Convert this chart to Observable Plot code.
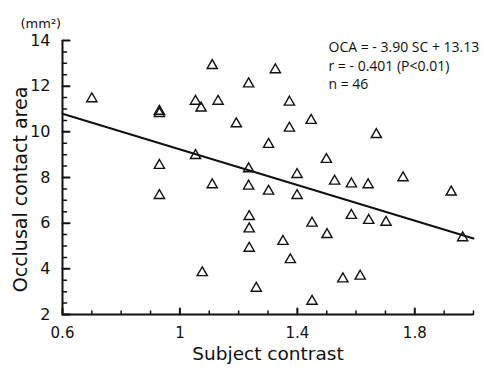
<!DOCTYPE html>
<html><head><meta charset="utf-8">
<script src="https://cdn.jsdelivr.net/npm/d3@7"></script>
<script src="https://cdn.jsdelivr.net/npm/@observablehq/plot@0.6"></script>
<style>
body{margin:0;background:#fff;}
#wrap{width:484px;height:368px;}
svg{font-family:"DejaVu Sans",sans-serif;}
</style></head><body><div id="wrap"></div>
<script>
// Subject contrast (SC) and occlusal contact area (OCA, mm²), n = 46
const sc = [0.70, 0.93, 0.93, 0.93, 0.93, 1.053, 1.072, 1.053, 1.076, 1.11,
            1.13, 1.11, 1.192, 1.234, 1.234, 1.234, 1.236, 1.236, 1.236, 1.26,
            1.302, 1.302, 1.325, 1.351, 1.373, 1.373, 1.376, 1.399, 1.399, 1.447,
            1.45, 1.45, 1.499, 1.501, 1.527, 1.555, 1.584, 1.584, 1.614, 1.641,
            1.643, 1.669, 1.702, 1.76, 1.924, 1.963];
const oca = [11.45, 10.9, 10.8, 8.53, 7.21, 11.34, 11.04, 8.96, 3.83, 12.9,
             11.34, 7.68, 10.35, 12.1, 8.38, 7.62, 6.29, 5.75, 4.90, 3.15,
             9.45, 7.40, 12.72, 5.20, 11.3, 10.16, 4.40, 8.13, 7.21, 10.5,
             6.0, 2.58, 8.79, 5.50, 7.84, 3.56, 7.72, 6.34, 3.68, 7.68,
             6.12, 9.88, 6.04, 7.99, 7.36, 5.36];
// regression line endpoints (as drawn)
const lineSC = [0.6, 2.0];
const lineOCA = [10.79, 5.33];
// ticks
const xLabelTicks = [0.6, 1, 1.4, 1.8];
const xMinorTicks = [0.7, 0.8, 0.9, 1.1, 1.2, 1.3, 1.5, 1.6, 1.7, 1.9, 2.0];
const yLabelTicks = [2, 4, 6, 8, 10, 12, 14];
const yMinorTicks = [2.5, 3, 3.5, 4.5, 5, 5.5, 6.5, 7, 7.5, 8.5, 9, 9.5, 10.5, 11, 11.5, 12.5, 13, 13.5];
const annotation = ["OCA = - 3.90 SC + 13.13", "r = - 0.401 (P<0.01)", "n = 46"];
const unitLabel = "(mm²)";
const xTitle = "Subject contrast";
const yTitle = "Occlusal contact area";

const pts = sc.map((x, i) => ({x, y: oca[i]}));
const lineData = lineSC.map((x, i) => ({x, y: lineOCA[i]}));

const tickShape = {draw(ctx, l) { ctx.moveTo(0, 0); ctx.lineTo(0, -l); }};
const ink = "#111";

const chart = Plot.plot({
  width: 484, height: 368,
  marginLeft: 62, marginRight: 11, marginTop: 40, marginBottom: 54,
  x: {domain: [0.6, 2.0]},
  y: {domain: [2, 14]},
  style: {fontFamily: "DejaVu Sans, sans-serif", color: ink, background: "white"},
  marks: [
    // axis lines
    Plot.ruleX([0.6], {stroke: ink, strokeWidth: 2}),
    Plot.ruleY([2], {stroke: ink, strokeWidth: 2}),
    // inward ticks
    Plot.vector(yLabelTicks, {x: 0.6, y: d => d, length: 7, rotate: 90, anchor: "start", shape: tickShape, stroke: ink, strokeWidth: 2}),
    Plot.vector(yMinorTicks, {x: 0.6, y: d => d, length: 4, rotate: 90, anchor: "start", shape: tickShape, stroke: ink, strokeWidth: 1.5}),
    Plot.vector(xLabelTicks, {x: d => d, y: 2, length: 6, rotate: 0, anchor: "start", shape: tickShape, stroke: ink, strokeWidth: 2}),
    Plot.vector(xMinorTicks, {x: d => d, y: 2, length: 3.5, rotate: 0, anchor: "start", shape: tickShape, stroke: ink, strokeWidth: 1.5}),
    // tick labels
    Plot.axisY(yLabelTicks, {tickSize: 0, tickPadding: 12, fontSize: 16, label: null, tickFormat: d => String(d), color: ink}),
    Plot.axisX(xLabelTicks, {tickSize: 0, tickPadding: 13, fontSize: 15, label: null, tickFormat: d => String(d), color: ink}),
    // titles
    Plot.text([xTitle], {frameAnchor: "bottom", dy: 45, fontSize: 18.5, fill: ink}),
    Plot.text([yTitle], {frameAnchor: "left", textAnchor: "middle", dx: -42, dy: 12, rotate: -90, fontSize: 19, fill: ink}),
    Plot.text([unitLabel], {frameAnchor: "top-left", textAnchor: "start", dx: -42, dy: -22, fontSize: 13, fill: ink}),
    // regression line
    Plot.line(lineData, {x: "x", y: "y", stroke: ink, strokeWidth: 2}),
    // points
    Plot.dot(pts, {x: "x", y: "y", symbol: "triangle", r: 3.8, fill: "none", stroke: ink, strokeWidth: 1.4}),
    // annotation
    Plot.text([annotation.join("\n")], {frameAnchor: "top-left", dx: 266, dy: -1, textAnchor: "start", lineAnchor: "top", lineHeight: 1.3, fontSize: 14, fontFamily: "Open Sans, sans-serif", fill: ink})
  ]
});
document.getElementById("wrap").appendChild(chart);
</script></body></html>
